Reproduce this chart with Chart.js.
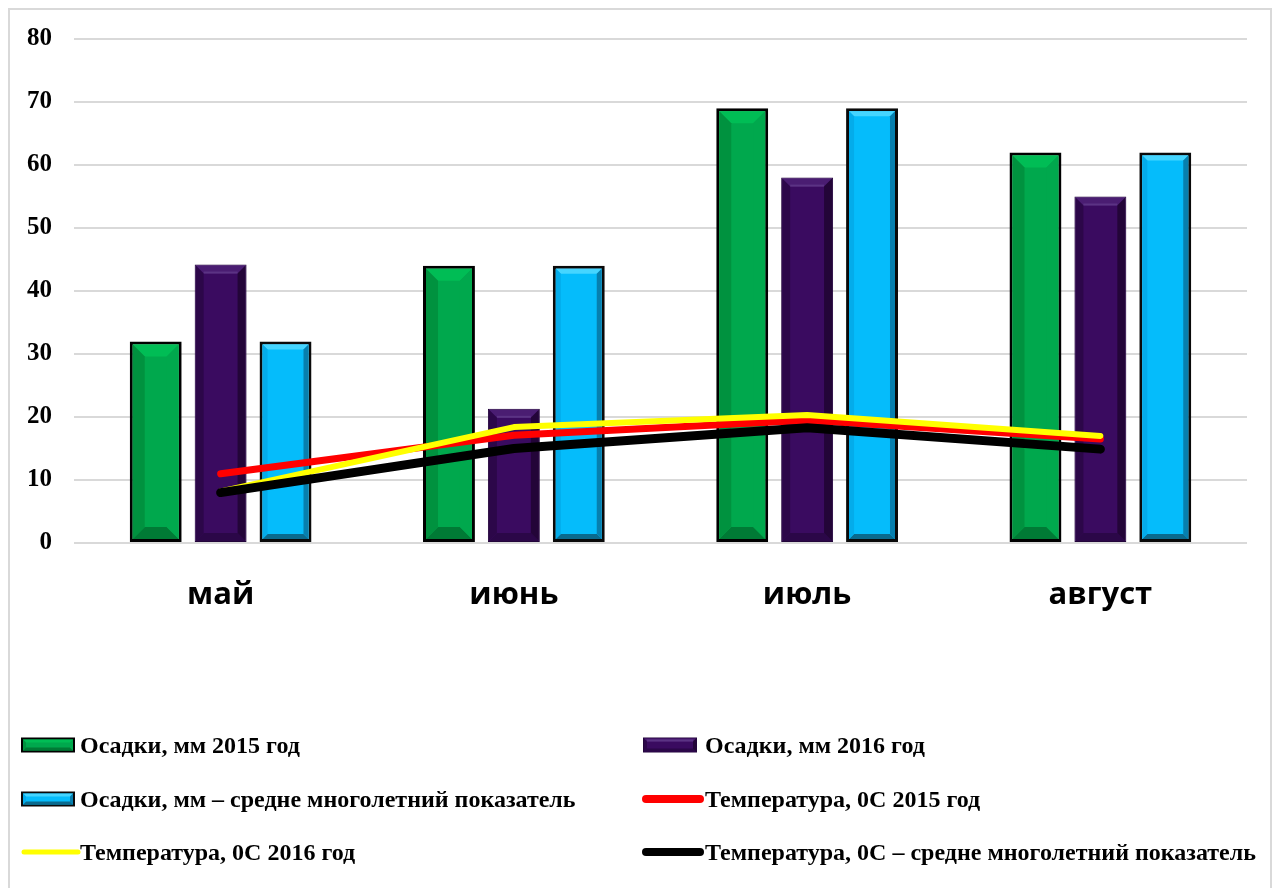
<!DOCTYPE html>
<html>
<head>
<meta charset="utf-8">
<script src="https://cdn.jsdelivr.net/npm/chart.js@4/dist/chart.umd.min.js"></script>
<style>
    body { margin: 0; background: #fff; }
    #wrap { position: relative; width: 1276px; height: 888px; overflow: hidden; }
    #frame { position: absolute; left: 8px; top: 8px; width: 1260px; height: 900px; border: 2px solid #d9d9d9; }
    #myChart { position: absolute; left: 0; top: 0; }
</style>
</head>
<body>
<div id="wrap">
    <div id="frame"></div>
    <canvas id="myChart" width="1276" height="888"></canvas>
</div>
<script>
// months on the x axis
const months = ['май', 'июнь', 'июль', 'август'];

// precipitation, mm
const rain2015 = [32, 44, 69, 62];
const rain2016 = [44.2, 21.3, 58, 55];
const rainNorm = [32, 44, 69, 62];

// temperature, C
const temp2015 = [11, 17.1, 19.5, 16.5];
const temp2016 = [8.2, 18.4, 20.3, 17];
const tempNorm = [8, 15, 18.3, 14.9];

const yMin = 0, yMax = 80, yStep = 10;

const labels = [
    'Осадки, мм 2015 год',
    'Осадки, мм 2016 год',
    'Осадки, мм – средне многолетний показатель',
    'Температура, 0С 2015 год',
    'Температура, 0С 2016 год',
    'Температура, 0С – средне многолетний показатель'
];

// trapezoid helper for the bevelled bars
function quad(ctx, pts, color){
    ctx.fillStyle = color;
    ctx.beginPath();
    ctx.moveTo(pts[0], pts[1]);
    for (let i = 2; i < pts.length; i += 2){
        ctx.lineTo(pts[i], pts[i + 1]);
    }
    ctx.closePath();
    ctx.fill();
}

function drawBevel(ctx, l, t, r, b, bv, size){
    const s = Math.min(size, (r - l) / 2, (b - t) / 2);
    if (s <= 0) return;
    quad(ctx, [l, t, r, t, r - s, t + s, l + s, t + s], bv.top);
    quad(ctx, [l, b, r, b, r - s, b - s, l + s, b - s], bv.bottom);
    quad(ctx, [l, t, l + s, t + s, l + s, b - s, l, b], bv.left);
    quad(ctx, [r, t, r - s, t + s, r - s, b - s, r, b], bv.right);
    if (bv.shine){
        // thin highlight stripe under the top edge
        ctx.fillStyle = bv.shine;
        ctx.fillRect(l + s, t + s - 2, r - l - 2 * s, 2);
    }
}

const bevelPlugin = {
    id: 'bevel',
    afterDatasetDraw(chart, args){
        const ds = chart.data.datasets[args.index];
        if (!ds.bevel) return;
        const ctx = chart.ctx;
        const bw = ds.borderWidth || 0;
        ctx.save();
        args.meta.data.forEach(bar => {
            const p = bar.getProps(['x', 'y', 'base', 'width'], true);
            const l = p.x - p.width / 2 + bw;
            const r = p.x + p.width / 2 - bw;
            const t = Math.min(p.y, p.base) + bw;
            const b = Math.max(p.y, p.base) - bw;
            drawBevel(ctx, l, t, r, b, ds.bevel, ds.bevel.size);
        });
        ctx.restore();
    }
};

// two-column legend under the plot
const legendRows = [[0, 1], [2, 3], [4, 5]];
const legendColX = [21, 643];
const legendTextX = [80, 705];
const legendRowY = [745, 799, 852];

const legendPlugin = {
    id: 'gridLegend',
    afterDraw(chart){
        const ctx = chart.ctx;
        const sets = chart.data.datasets;
        ctx.save();
        ctx.font = 'bold 24px "Liberation Serif"';
        ctx.textBaseline = 'middle';
        ctx.fillStyle = '#000';
        legendRows.forEach((row, ri) => {
            row.forEach((di, ci) => {
                const ds = sets[di];
                const x = legendColX[ci];
                const y = legendRowY[ri];
                if (ds.type === 'line'){
                    ctx.strokeStyle = ds.borderColor;
                    ctx.lineWidth = ds.legendWidth;
                    ctx.lineCap = 'round';
                    ctx.beginPath();
                    ctx.moveTo(x + 3, y);
                    ctx.lineTo(x + 57, y);
                    ctx.stroke();
                } else {
                    const w = 54, h = 15, bw = ds.borderWidth > 1 ? 2 : 1;
                    ctx.fillStyle = ds.borderColor;
                    ctx.fillRect(x, y - h / 2, w, h);
                    ctx.fillStyle = ds.backgroundColor;
                    ctx.fillRect(x + bw, y - h / 2 + bw, w - 2 * bw, h - 2 * bw);
                    drawBevel(ctx, x + bw, y - h / 2 + bw, x + w - bw, y + h / 2 - bw, ds.bevel, 3);
                }
                ctx.fillStyle = '#000';
                ctx.fillText(ds.label, legendTextX[ci], y + 2);
            });
        });
        ctx.restore();
    }
};

new Chart('myChart', {
    type: 'bar',
    data: {
        labels: months,
        datasets: [{
            label: labels[0],
            data: rain2015,
            backgroundColor: '#00a84d',
            borderColor: '#000000',
            borderWidth: 3,
            borderSkipped: false,
            order: 10,
            bevel: { size: 12, top: '#00bd55', left: '#00923f', right: '#00a84d', bottom: '#007a35' }
        }, {
            label: labels[1],
            data: rain2016,
            backgroundColor: '#3a0b60',
            borderColor: '#22053a',
            borderWidth: 1,
            borderSkipped: false,
            order: 10,
            bevel: { size: 8, top: '#4a1d72', left: '#2c0749', right: '#230538', bottom: '#2b0748', shine: '#5b3384' }
        }, {
            label: labels[2],
            data: rainNorm,
            backgroundColor: '#05bcfb',
            borderColor: '#0a0a0a',
            borderWidth: 3,
            borderSkipped: false,
            order: 10,
            bevel: { size: 5, top: '#45d5ff', left: '#04acea', right: '#077fae', bottom: '#0a6a8e' }
        }, {
            type: 'line',
            label: labels[3],
            data: temp2015,
            borderColor: '#ff0000',
            borderWidth: 7,
            legendWidth: 8,
            borderCapStyle: 'round',
            borderJoinStyle: 'round',
            pointRadius: 0,
            order: 3
        }, {
            type: 'line',
            label: labels[4],
            data: temp2016,
            borderColor: '#ffff00',
            borderWidth: 6,
            legendWidth: 5,
            borderCapStyle: 'round',
            borderJoinStyle: 'round',
            pointRadius: 0,
            order: 2
        }, {
            type: 'line',
            label: labels[5],
            data: tempNorm,
            borderColor: '#000000',
            borderWidth: 9,
            legendWidth: 8,
            borderCapStyle: 'round',
            borderJoinStyle: 'round',
            pointRadius: 0,
            order: 1
        }]
    },
    options: {
        responsive: false,
        animation: false,
        devicePixelRatio: 1,
        layout: {
            padding: { left: 0, right: 29, top: 39, bottom: 0 }
        },
        plugins: {
            legend: { display: false },
            tooltip: { enabled: false }
        },
        datasets: {
            bar: {
                categoryPercentage: 0.664,
                barPercentage: 0.8
            }
        },
        scales: {
            x: {
                grid: { display: false, drawTicks: false },
                border: { display: false },
                ticks: {
                    color: '#000',
                    font: { family: '"Open Sans"', size: 31, weight: 'bold' },
                    padding: 34
                },
                afterFit: scale => { scale.height = 345; }
            },
            y: {
                min: yMin,
                max: yMax,
                grid: { color: '#d9d9d9', lineWidth: 2, drawTicks: false },
                border: { display: false },
                ticks: {
                    stepSize: yStep,
                    color: '#000',
                    font: { family: '"Liberation Serif"', size: 25, weight: 'bold' },
                    padding: 22
                },
                afterFit: scale => { scale.width = 74; }
            }
        }
    },
    plugins: [bevelPlugin, legendPlugin]
});
</script>
</body>
</html>
